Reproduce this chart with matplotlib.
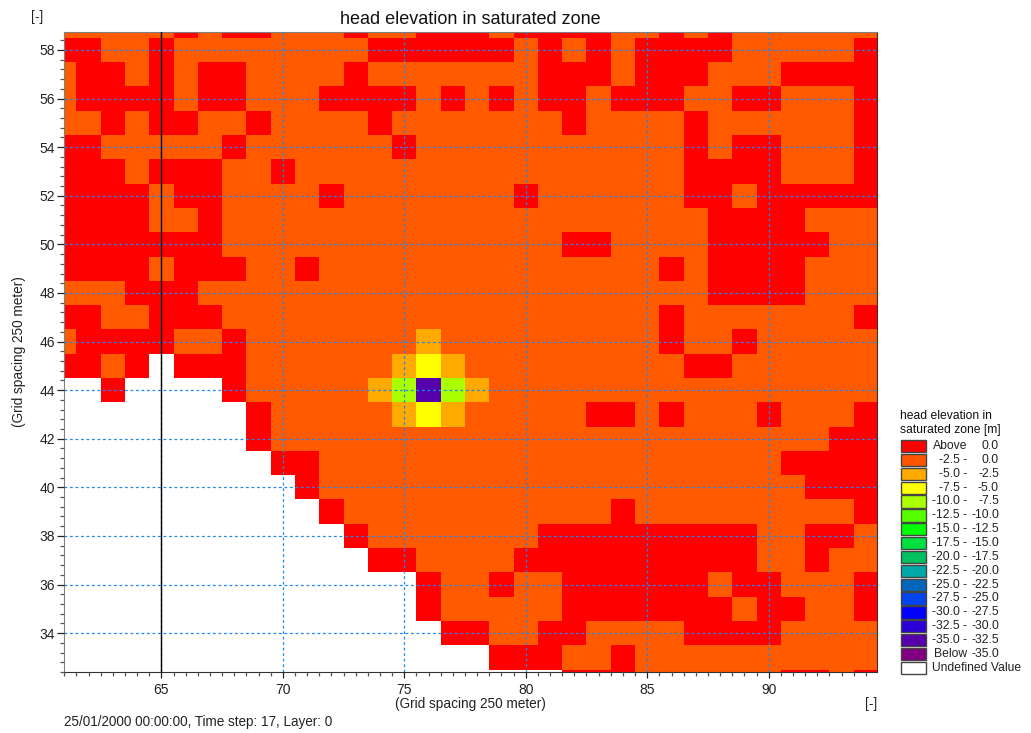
import numpy as np
import matplotlib
matplotlib.use('Agg')
import matplotlib.pyplot as plt
from matplotlib.colors import ListedColormap, BoundaryNorm
from matplotlib.ticker import MultipleLocator

plt.rcParams['font.family'] = ['Liberation Sans', 'DejaVu Sans']

# grid columns 61..94, rows from 59 down to 32
# R above 0, O -2.5..0, A -5..-2.5, Y -7.5..-5, G -10..-7.5, P -35..-32.5, . undefined
columns = np.arange(61, 95)
rows = np.arange(59, 31, -1)
cells = [
    "OOOOORORRO" "OOROORRROR" "RRROOROROO" "OOOO",
    "RROOROOOOO" "OOORRRRRRO" "RORORRRROO" "OOOR",
    "ORRORORROO" "OOROOOOOOO" "RRRORRROOO" "RRRR",
    "ORRRRORROO" "ORRRRORORO" "RRORRROORR" "OOOR",
    "OORORROORO" "OOOROOOOOO" "OROOOOROOO" "OOOR",
    "RROOOOOROO" "OOOOROOOOO" "OOOOOORORR" "OOOR",
    "RRRORRROOR" "OOOOOOOOOO" "OOOOOORRRR" "OOOR",
    "RRRRORROOO" "OROOOOOOOR" "OOOOOORROR" "RRRR",
    "RRRROOROOO" "OOOOOOOOOO" "OOOOOOORRR" "ROOO",
    "RRRRRRROOO" "OOOOOOOOOO" "ORROOOORRR" "RROO",
    "RRRRORRROO" "ROOOOOOOOO" "OOOOORORRR" "ROOO",
    "OOORRROOOO" "OOOOOOOOOO" "OOOOOOORRR" "ROOO",
    "RROORRROOO" "OOOOOOOOOO" "OOOOOROOOO" "OOOR",
    "ORRRROOROO" "OOOOOAOOOO" "OOOOOROORO" "OOOO",
    "RROR.RRROO" "OOOOAYAOOO" "OOOOOORROO" "OOOO",
    "..R....ROO" "OOOAGPGAOO" "OOOOOOOOOO" "OOOO",
    "........RO" "OOOOAYAOOO" "OORROROOOR" "OOOR",
    "........RO" "OOOOOOOOOO" "OOOOOOOOOO" "OORR",
    ".........R" "ROOOOOOOOO" "OOOOOOOOOO" "RRRR",
    ".........." "ROOOOOOOOO" "OOOOOOOOOO" "ORRR",
    ".........." ".ROOOOOOOO" "OOOROOOOOO" "OOOR",
    ".........." "..ROOOOOOO" "RRRRRRRRRO" "ORRO",
    ".........." "...RROOOOR" "RRRRRRRRRO" "OROO",
    ".........." ".....ROORO" "ORRRRRRORR" "OOOR",
    ".........." ".....ROOOO" "ORRRRRRROR" "ROOR",
    ".........." "......RROO" "RROOOORRRR" "OOOO",
    ".........." "........RR" "ROOROOOOOO" "OOOO",
    ".........." ".........." ".RRROOOOOO" "RROR",
]
codes = ".ROAYGP"
code_colors = ['#ffffff', '#ff0000', '#ff5a00', '#ffaa00', '#ffff00', '#aaff00', '#5500aa']

legend_low = ['Above', '-2.5 -', '-5.0 -', '-7.5 -', '-10.0 -', '-12.5 -', '-15.0 -', '-17.5 -',
              '-20.0 -', '-22.5 -', '-25.0 -', '-27.5 -', '-30.0 -', '-32.5 -', '-35.0 -', 'Below']
legend_high = ['0.0', '0.0', '-2.5', '-5.0', '-7.5', '-10.0', '-12.5', '-15.0',
               '-17.5', '-20.0', '-22.5', '-25.0', '-27.5', '-30.0', '-32.5', '-35.0']
legend_colors = ['#ff0000', '#ff5500', '#ffaa00', '#ffff00', '#aaff00', '#55ff00', '#00ff00', '#00e040',
                 '#00c060', '#00aaaa', '#0066bb', '#0044ee', '#0000ff', '#2a00d5', '#5500aa', '#800080']

W, H = 1031, 733
fig = plt.figure(figsize=(W / 100, H / 100), dpi=100, facecolor='white')
ax = fig.add_axes([64 / W, 1 - 672 / H, (877 - 64) / W, (672 - 32) / H])

grid = np.array([[codes.index(c) for c in row] for row in cells])
cmap = ListedColormap(code_colors)
norm = BoundaryNorm(np.arange(-0.5, len(codes)), cmap.N)
x_edges = np.append(columns - 0.5, columns[-1] + 0.5)
y_edges = np.append(rows + 0.5, rows[-1] - 0.5)
ax.pcolormesh(x_edges, y_edges, grid, cmap=cmap, norm=norm, zorder=1)

ax.set_xlim(60.99, 94.46)
ax.set_ylim(32.4, 58.74)
ax.xaxis.set_major_locator(MultipleLocator(5))
ax.xaxis.set_minor_locator(MultipleLocator(0.5))
ax.yaxis.set_major_locator(MultipleLocator(2))
ax.yaxis.set_minor_locator(MultipleLocator(0.4))
ax.tick_params(which='major', width=0.9, color='#222222', labelsize=10, labelcolor='#222222')
ax.tick_params(axis='x', which='major', length=4, pad=4)
ax.tick_params(axis='y', which='major', length=5, pad=1.5)
ax.tick_params(which='minor', length=3, width=0.9, color='#555555')
ax.set_axisbelow(False)
ax.grid(which='major', color='#1e88f0', linestyle=(0, (2.2, 2.2)), linewidth=0.9, zorder=2)
ax.axvline(65, color='black', linewidth=1, zorder=3)
for side in ['left', 'top']:
    ax.spines[side].set_color('#808080')
for side in ['right', 'bottom']:
    ax.spines[side].set_color('#333333')

# everything outside the map is placed in pixels
ov = fig.add_axes([0, 0, 1, 1], facecolor='none')
ov.set_xlim(0, W)
ov.set_ylim(H, 0)
ov.axis('off')

ov.text(470, 20, 'head elevation in saturated zone', fontsize=13, ha='center', va='center', color='#111111')
ov.text(37, 17, '[-]', fontsize=10, ha='center', va='center', color='#222222')
ov.text(871, 704, '[-]', fontsize=10, ha='center', va='center', color='#222222')
ov.text(470, 704, '(Grid spacing 250 meter)', fontsize=9.8, ha='center', va='center', color='#222222')
ov.text(19, 352, '(Grid spacing 250 meter)', fontsize=9.8, ha='center', va='center', rotation=90, color='#222222')
ov.text(64, 722, '25/01/2000 00:00:00, Time step: 17, Layer: 0', fontsize=9.75, ha='left', va='center', color='#222222')

ov.text(900, 416, 'head elevation in', fontsize=8.7, ha='left', va='center', color='#111111')
ov.text(900, 429.5, 'saturated zone [m]', fontsize=8.7, ha='left', va='center', color='#111111')
y0 = 446
step = 13.85
for i in range(len(legend_colors)):
    y = y0 + i * step
    ov.add_patch(plt.Rectangle((900.5, y - 6), 25, 12.3, facecolor=legend_colors[i], edgecolor='#444444', linewidth=1))
    ov.text(967, y, legend_low[i], fontsize=8.7, ha='right', va='center', color='#222222')
    ov.text(999, y, legend_high[i], fontsize=8.7, ha='right', va='center', color='#222222')
y = y0 + len(legend_colors) * step
ov.add_patch(plt.Rectangle((900.5, y - 6), 25, 12.3, facecolor='white', edgecolor='#444444', linewidth=1))
ov.text(932, y, 'Undefined Value', fontsize=8.7, ha='left', va='center', color='#222222')

fig.savefig('out.png', dpi=100)
